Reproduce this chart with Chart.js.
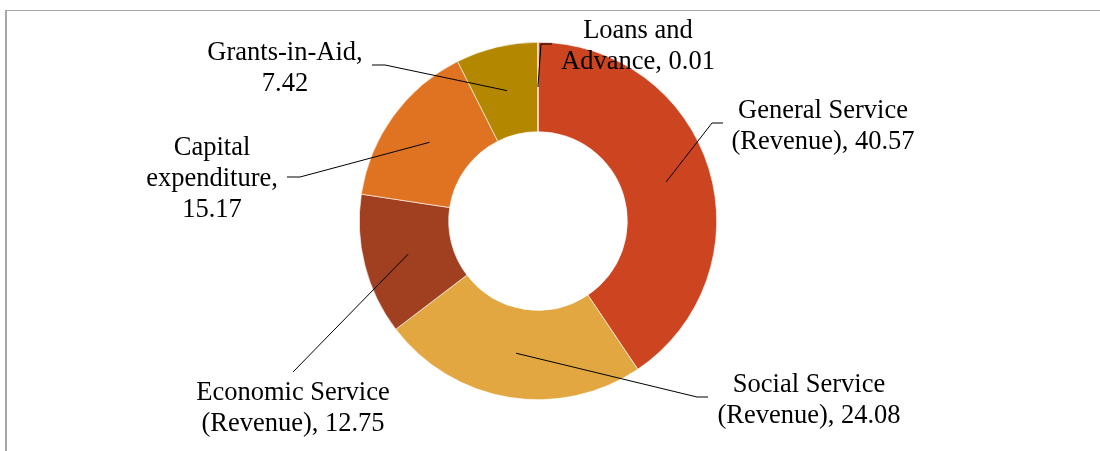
<!DOCTYPE html>
<html>
<head>
<meta charset="utf-8">
<script src="https://cdn.jsdelivr.net/npm/chart.js@4.4.1/dist/chart.umd.min.js"></script>
<style>
  html, body { margin: 0; padding: 0; background: #fff; }
  #wrap { position: relative; width: 1100px; height: 451px; }
</style>
</head>
<body>
<div id="wrap"><canvas id="expenditureChart"></canvas></div>
<script>
const categories = [
    'General Service\n(Revenue)',
    'Social Service\n(Revenue)',
    'Economic Service\n(Revenue)',
    'Capital\nexpenditure',
    'Grants-in-Aid',
    'Loans and\nAdvance'
];
const shares = [40.57, 24.08, 12.75, 15.17, 7.42, 0.01];
const sliceColors = ['#CD4420', '#E2A740', '#A04021', '#E07322', '#B38800', '#C8641E'];

// data label placement: text centre x, first baseline y, whether the value wraps
// to its own line, and the elbow / end of the leader line
const labelLayout = [
    { x: 823, y: 118, valueLine: false, elbow: [712, 123], end: [723, 123] },
    { x: 809, y: 392, valueLine: false, elbow: [697, 397], end: [708, 397] },
    { x: 293, y: 400, valueLine: false, elbow: [293, 372], end: null },
    { x: 212, y: 155, valueLine: true, elbow: [300, 177], end: [287, 177] },
    { x: 285, y: 60, valueLine: true, elbow: [385, 65], end: [372, 65] },
    { x: 638, y: 38, valueLine: false, elbow: [541, 44], end: [552, 44] }
];
const LINE_HEIGHT = 31;
const LABEL_FONT = '26.5px "Liberation Serif", "Times New Roman", serif';

const frameAndLabels = {
    id: 'frameAndLabels',
    beforeDraw(chart) {
        const ctx = chart.ctx;
        ctx.save();
        ctx.fillStyle = '#a6a6a6';
        ctx.fillRect(5, 10, 2, chart.height - 10);
        ctx.fillRect(5, 10, chart.width - 5, 1);
        ctx.restore();
    },
    afterDatasetsDraw(chart) {
        const ctx = chart.ctx;
        const arcs = chart.getDatasetMeta(0).data;
        ctx.save();
        ctx.strokeStyle = '#000';
        ctx.lineWidth = 1;
        ctx.fillStyle = '#000';
        ctx.font = LABEL_FONT;
        ctx.textAlign = 'center';
        ctx.textBaseline = 'alphabetic';
        arcs.forEach(function (arc, i) {
            const lay = labelLayout[i];
            const p = arc.getCenterPoint();
            ctx.beginPath();
            ctx.moveTo(p.x, p.y);
            ctx.lineTo(lay.elbow[0], lay.elbow[1]);
            if (lay.end) ctx.lineTo(lay.end[0], lay.end[1]);
            ctx.stroke();

            const text = categories[i] + (lay.valueLine ? ',\n' : ', ') + shares[i];
            text.split('\n').forEach(function (line, k) {
                ctx.fillText(line, lay.x, lay.y + k * LINE_HEIGHT);
            });
        });
        ctx.restore();
    }
};

const ctx = document.getElementById('expenditureChart');
new Chart(ctx, {
    type: 'doughnut',
    data: {
        labels: categories,
        datasets: [{
            data: shares,
            backgroundColor: sliceColors,
            borderColor: '#ffffff',
            borderWidth: 0.6
        }]
    },
    options: {
        responsive: true,
        maintainAspectRatio: false,
        animation: false,
        cutout: '50%',
        layout: { padding: { top: 42, bottom: 51, left: 0, right: 24 } },
        plugins: {
            legend: { display: false },
            tooltip: { enabled: false }
        }
    },
    plugins: [frameAndLabels]
});
</script>
</body>
</html>
